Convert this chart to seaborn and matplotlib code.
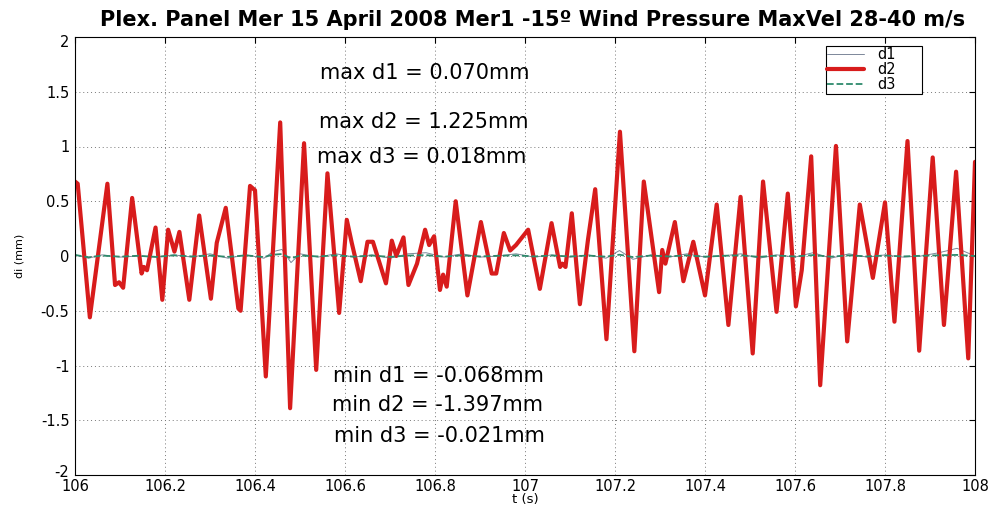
import matplotlib
matplotlib.use("Agg")
import matplotlib.pyplot as plt
import matplotlib.transforms as mtransforms
import seaborn as sns
import pandas as pd
from matplotlib.ticker import FuncFormatter, FixedLocator

# ---------------- data ----------------
title = "Plex. Panel Mer 15 April 2008 Mer1 -15º Wind Pressure MaxVel 28-40 m/s"

t_d2 = [106.000, 106.006, 106.033, 106.072, 106.089, 106.098, 106.107, 106.127,
        106.148, 106.153, 106.160, 106.179, 106.194, 106.207, 106.221, 106.232,
        106.254, 106.276, 106.302, 106.315, 106.335, 106.363, 106.368, 106.389,
        106.400, 106.424, 106.456, 106.478, 106.509, 106.536, 106.561, 106.587,
        106.604, 106.615, 106.635, 106.650, 106.662, 106.691, 106.704, 106.714,
        106.730, 106.741, 106.760, 106.778, 106.787, 106.798, 106.811, 106.818,
        106.826, 106.846, 106.872, 106.902, 106.926, 106.936, 106.953, 106.967,
        106.980, 107.007, 107.033, 107.059, 107.078, 107.083, 107.090, 107.104,
        107.122, 107.140, 107.156, 107.181, 107.211, 107.243, 107.264, 107.298,
        107.305, 107.312, 107.333, 107.352, 107.374, 107.400, 107.426, 107.452,
        107.479, 107.506, 107.529, 107.559, 107.584, 107.602, 107.615, 107.636,
        107.656, 107.691, 107.716, 107.744, 107.773, 107.800, 107.821, 107.850,
        107.876, 107.906, 107.931, 107.958, 107.985, 108.000]
d2 = [0.68, 0.66, -0.56, 0.66, -0.265, -0.24, -0.29, 0.53,
      -0.16, -0.10, -0.13, 0.26, -0.40, 0.24, 0.04, 0.22,
      -0.40, 0.37, -0.39, 0.12, 0.44, -0.48, -0.50, 0.64,
      0.60, -1.10, 1.22, -1.39, 1.03, -1.04, 0.755, -0.52,
      0.33, 0.12, -0.23, 0.13, 0.13, -0.25, 0.14, 0.00,
      0.17, -0.265, -0.07, 0.24, 0.10, 0.18, -0.31, -0.17,
      -0.28, 0.50, -0.36, 0.31, -0.16, -0.16, 0.21, 0.05,
      0.10, 0.24, -0.30, 0.30, -0.10, -0.07, -0.10, 0.39,
      -0.44, 0.15, 0.61, -0.76, 1.135, -0.87, 0.68, -0.33,
      0.055, -0.07, 0.31, -0.23, 0.13, -0.36, 0.47, -0.63,
      0.54, -0.89, 0.68, -0.51, 0.57, -0.46, -0.13, 0.91,
      -1.18, 1.005, -0.78, 0.47, -0.20, 0.49, -0.60, 1.05,
      -0.865, 0.90, -0.63, 0.77, -0.935, 0.86]

t_small = [106.00, 106.03, 106.06, 106.10, 106.14, 106.18, 106.22, 106.26, 106.30,
           106.34, 106.38, 106.42, 106.44, 106.46, 106.48, 106.50, 106.54, 106.58,
           106.62, 106.66, 106.70, 106.74, 106.78, 106.82, 106.86, 106.90, 106.94,
           106.98, 107.02, 107.06, 107.10, 107.14, 107.18, 107.21, 107.24, 107.28,
           107.32, 107.36, 107.40, 107.44, 107.48, 107.52, 107.56, 107.60, 107.64,
           107.68, 107.72, 107.76, 107.80, 107.84, 107.88, 107.92, 107.96, 108.00]
d1 = [0.01, -0.02, 0.01, -0.01, 0.00, -0.01, 0.01, -0.01, 0.02,
      -0.02, 0.01, -0.02, 0.04, 0.06, -0.06, 0.02, -0.01, 0.02,
      -0.01, 0.01, -0.02, 0.02, 0.03, -0.01, 0.02, -0.01, 0.00,
      0.02, -0.01, 0.01, -0.01, 0.01, -0.02, 0.05, -0.03, 0.01,
      -0.01, 0.02, -0.01, 0.00, 0.02, -0.02, 0.01, -0.01, 0.03,
      -0.02, 0.02, -0.01, 0.01, -0.01, 0.00, 0.03, 0.07, 0.00]
d3 = [0.010, -0.012, 0.004, -0.006, 0.002, -0.008, 0.006, -0.004, 0.004,
      -0.008, 0.006, -0.010, 0.012, 0.018, -0.021, 0.004, -0.004, 0.006,
      -0.006, 0.004, -0.008, 0.004, 0.008, -0.006, 0.006, -0.004, 0.002,
      0.006, -0.004, 0.004, -0.004, 0.004, -0.006, 0.012, -0.010, 0.004,
      -0.004, 0.006, -0.006, 0.002, 0.006, -0.008, 0.004, -0.004, 0.008,
      -0.006, 0.006, -0.004, 0.004, -0.004, 0.002, 0.006, 0.010, 0.000]

max_labels = ["max d1 = 0.070mm", "max d2 = 1.225mm", "max d3 = 0.018mm"]
min_labels = ["min d1 = -0.068mm", "min d2 = -1.397mm", "min d3 = -0.021mm"]
max_pos = [(106.778, 1.67), (106.774, 1.227), (106.77, 0.907)]
min_pos = [(106.807, -1.10), (106.805, -1.36), (106.81, -1.64)]

x_ticks = [106, 106.2, 106.4, 106.6, 106.8, 107, 107.2, 107.4, 107.6, 107.8, 108]
y_ticks = [-2, -1.5, -1, -0.5, 0, 0.5, 1, 1.5, 2]

# ---------------- plot ----------------
sns.set_style("white")
plt.rcParams['font.family'] = ['DejaVu Sans']
plt.rcParams.update({"text.color": "black", "axes.labelcolor": "black",
                     "xtick.color": "black", "ytick.color": "black"})

fig = plt.figure(figsize=(9.92, 5.07), dpi=100)
ax = fig.add_axes([75 / 992, 1 - 475 / 507, 900 / 992, 438 / 507])

df_small = pd.DataFrame({"t": t_small, "d1": d1, "d3": d3})
df2 = pd.DataFrame({"t": t_d2, "d2": d2})

sns.lineplot(data=df_small, x="t", y="d1", ax=ax, color="#7c8799", lw=0.7,
             label="d1", sort=False, estimator=None)
sns.lineplot(data=df2, x="t", y="d2", ax=ax, color="#d81c1c", lw=3.0,
             label="d2", sort=False, estimator=None, solid_joinstyle="round")
sns.lineplot(data=df_small, x="t", y="d3", ax=ax, color="#2e8a6c", lw=1.3,
             ls="--", label="d3", sort=False, estimator=None)

ax.set_xlim(106, 108)
ax.set_ylim(-2, 2)
ax.xaxis.set_major_locator(FixedLocator(x_ticks))
ax.yaxis.set_major_locator(FixedLocator(y_ticks))
ax.xaxis.set_major_formatter(FuncFormatter(lambda v, p: f"{v:g}"))
ax.yaxis.set_major_formatter(FuncFormatter(lambda v, p: f"{v:g}"))
ax.tick_params(direction="in", length=4, width=0.8, labelsize=10.5,
               top=True, right=True, colors="black")
ax.tick_params(axis="x", pad=3)
ax.tick_params(axis="y", pad=4)
ax.grid(True, color="#777777", ls=(0, (1, 3)), lw=0.7)
for s in ax.spines.values():
    s.set_visible(True)
    s.set_color("black")
    s.set_linewidth(0.8)

ax.set_xlabel("t (s)", fontsize=9.5, labelpad=-1)
ax.set_ylabel("di (mm)", fontsize=8, labelpad=12)

fig.canvas.draw()
for lab in ax.get_yticklabels():
    txt = lab.get_text().replace("\u2212", "-")
    if txt == "-2":
        lab.set_transform(lab.get_transform() +
                          mtransforms.ScaledTranslation(0, 3 / 72, fig.dpi_scale_trans))
    elif txt == "2":
        lab.set_transform(lab.get_transform() +
                          mtransforms.ScaledTranslation(0, -3 / 72, fig.dpi_scale_trans))

for (x, y), s in zip(max_pos, max_labels):
    ax.text(x, y, s, ha="center", va="center", fontsize=15)
for (x, y), s in zip(min_pos, min_labels):
    ax.text(x, y, s, ha="center", va="center", fontsize=15)

fig.text(533 / 992, 1 - 20 / 507, title, ha="center", va="center",
         fontsize=15, fontweight="bold")

leg = ax.legend(loc="upper left",
                bbox_to_anchor=(826 / 992, 1 - 92.5 / 507, 96 / 992, 46.8 / 507),
                bbox_transform=fig.transFigure, mode="expand",
                fontsize=10.5, frameon=True, fancybox=False, edgecolor="black",
                framealpha=1, handlelength=2.5, borderpad=0.1,
                labelspacing=0.0, handletextpad=0.9, borderaxespad=0)
leg.get_frame().set_linewidth(0.8)

fig.savefig("out.png", dpi=100, facecolor="white")
